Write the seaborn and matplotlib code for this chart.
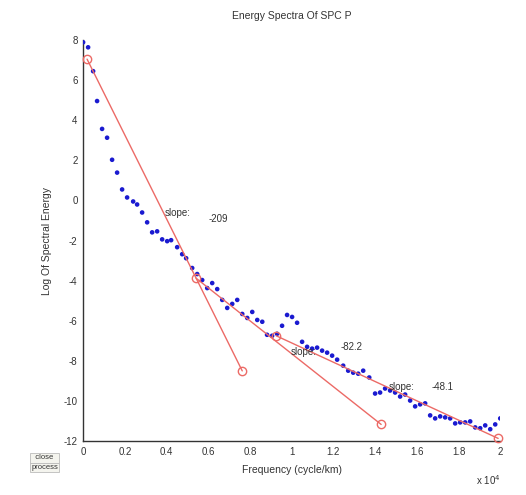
import numpy as np
import pandas as pd
import matplotlib
matplotlib.use("Agg")
import matplotlib.pyplot as plt
import seaborn as sns

# Spectrum samples: frequency (cycle/km) and log of spectral energy
freq = [0, 240, 480, 670, 910, 1150, 1390, 1630, 1870, 2110,
        2400, 2590, 2830, 3070, 3310, 3550, 3790, 4030, 4220, 4510,
        4750, 4940, 5230, 5470, 5710, 5950, 6190, 6430, 6670, 6910,
        7150, 7390, 7630, 7870, 8110, 8350, 8590, 8820, 9060, 9300,
        9540, 9780, 10020, 10260, 10500, 10740, 10980, 11220, 11460, 11700,
        11940, 12180, 12470, 12710, 12950, 13190, 13430, 13720, 14000, 14240,
        14480, 14720, 14960, 15200, 15440, 15680, 15920, 16160, 16400, 16640,
        16880, 17120, 17360, 17600, 17840, 18080, 18320, 18560, 18800, 19040,
        19280, 19520, 19760, 20000]
log_energy = [7.89, 7.64, 6.45, 4.96, 3.57, 3.13, 2.03, 1.39, 0.55, 0.15,
              -0.05, -0.20, -0.60, -1.09, -1.59, -1.54, -1.94, -2.03, -1.98, -2.33,
              -2.68, -2.88, -3.37, -3.67, -3.97, -4.37, -4.12, -4.42, -4.96, -5.36,
              -5.16, -4.96, -5.66, -5.86, -5.56, -5.96, -6.05, -6.70, -6.75, -6.65,
              -6.25, -5.71, -5.81, -6.10, -7.05, -7.30, -7.39, -7.34, -7.49, -7.59,
              -7.74, -7.94, -8.24, -8.49, -8.59, -8.64, -8.49, -8.83, -9.63, -9.58,
              -9.38, -9.48, -9.58, -9.78, -9.68, -9.98, -10.27, -10.17, -10.12, -10.72,
              -10.87, -10.77, -10.82, -10.87, -11.12, -11.07, -11.07, -11.02, -11.32, -11.36,
              -11.22, -11.41, -11.17, -10.87]

# Fitted segments: start frequency, start value, end frequency, slope (per 10^5 cycle/km)
seg_start_f = [190, 5420, 9260]
seg_start_y = [7.05, -3.88, -6.75]
seg_end_f = [7630, 14290, 19900]
seg_slope = [-209, -82.2, -48.1]
seg_labels = ["-209", "-82.2", "-48.1"]

# Annotation anchors (x in units of 10^4 cycle/km)
slope_word_pos = [(0.393, -0.6), (0.993, -7.55), (1.463, -9.3)]
slope_val_pos = [(0.60, -0.9), (1.233, -7.3), (1.669, -9.3)]

SCALE = 1e4

sns.set_style("white")
plt.rcParams["font.family"] = ["Liberation Sans", "DejaVu Sans"]

fig = plt.figure(figsize=(5.26, 4.95), dpi=100)
ax = fig.add_axes([0.158, 0.109, 0.793, 0.810])

pts = pd.DataFrame({"f": np.array(freq) / SCALE, "e": log_energy})
sns.scatterplot(data=pts, x="f", y="e", ax=ax, color="#1a1ad0", s=11,
                edgecolor="none", zorder=3, legend=False)

seg_color = "#ec6a66"
for f0, y0, f1, k in zip(seg_start_f, seg_start_y, seg_end_f, seg_slope):
    y1 = y0 + k * (f1 - f0) / 1e5
    seg = pd.DataFrame({"f": [f0 / SCALE, f1 / SCALE], "e": [y0, y1]})
    sns.lineplot(data=seg, x="f", y="e", ax=ax, color=seg_color, lw=1.0,
                 marker="o", markersize=6, markerfacecolor="none",
                 markeredgecolor=seg_color, markeredgewidth=1.0,
                 sort=False, estimator=None, zorder=4, legend=False,
                 clip_on=False)

for (wx, wy), (vx, vy), lab in zip(slope_word_pos, slope_val_pos, seg_labels):
    ax.text(wx, wy, "slope:", fontsize=7, color="#333333", va="center", zorder=5)
    ax.text(vx, vy, lab, fontsize=7, color="#333333", va="center", zorder=5)

ax.set_xlim(0, 2)
ax.set_ylim(-12, 8)
ax.set_xticks(np.arange(0, 2.01, 0.2))
ax.set_xticklabels(["0", "0.2", "0.4", "0.6", "0.8", "1", "1.2", "1.4", "1.6", "1.8", "2"])
ax.set_yticks(np.arange(-12, 8.1, 2))
ax.set_yticklabels([str(v) for v in range(-12, 9, 2)])
ax.tick_params(direction="in", length=3, labelsize=7, colors="#333333", pad=4)

for side in ("top", "right"):
    ax.spines[side].set_visible(False)
for side in ("left", "bottom"):
    ax.spines[side].set_color("#333333")
    ax.spines[side].set_linewidth(1.0)

ax.set_xlabel("Frequency (cycle/km)", fontsize=7.5, color="#333333", labelpad=6)
ax.set_ylabel("Log Of Spectral Energy", fontsize=7.5, color="#333333", labelpad=8)
ax.set_title("Energy Spectra Of SPC P", fontsize=7.5, color="#333333", pad=15)

fig.text(0.905, 0.02, r"x 10$^4$", fontsize=7, color="#333333")

# Figure buttons
fig.text(0.085, 0.072, "  close  ", fontsize=5.5, color="#333333", ha="center",
         bbox=dict(boxstyle="square,pad=0.15", fc="#f4f4ee", ec="#bbbbbb", lw=0.6))
fig.text(0.085, 0.053, "process", fontsize=5.5, color="#333333", ha="center",
         bbox=dict(boxstyle="square,pad=0.15", fc="#f4f4ee", ec="#bbbbbb", lw=0.6))

fig.savefig("out.png", dpi=100, facecolor="white")
